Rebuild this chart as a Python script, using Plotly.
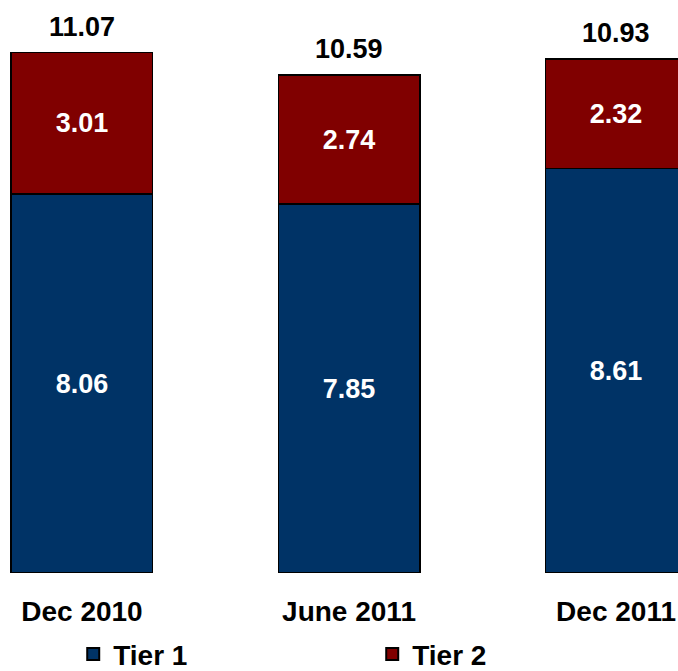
import plotly.graph_objects as go

periods = ["Dec 2010", "June 2011", "Dec 2011"]
tier1 = [8.06, 7.85, 8.61]
tier2 = [3.01, 2.74, 2.32]
totals = [11.07, 10.59, 10.93]

font_name = "Liberation Sans, Arial, sans-serif"

fig = go.Figure()
fig.add_trace(
    go.Bar(
        x=periods, y=tier1, name="<b>Tier 1</b>",
        marker=dict(color="#003366", line=dict(color="black", width=1.5)),
        text=[f"<b>{v:.2f}</b>" for v in tier1],
        textposition="inside", insidetextanchor="middle",
        textfont=dict(color="white", size=27, family=font_name),
    )
)
fig.add_trace(
    go.Bar(
        x=periods, y=tier2, name="<b>Tier 2</b>",
        marker=dict(color="#800000", line=dict(color="black", width=1.5)),
        text=[f"<b>{v:.2f}</b>" for v in tier2],
        textposition="inside", insidetextanchor="middle",
        textfont=dict(color="white", size=27, family=font_name),
    )
)

# totals above each bar
for p, t in zip(periods, totals):
    fig.add_annotation(
        x=p, y=t, text=f"<b>{t:.2f}</b>", showarrow=False,
        yanchor="bottom", yshift=9,
        font=dict(size=27, color="black", family=font_name),
    )

fig.update_layout(
    width=678, height=671,
    barmode="stack",
    bargap=0.47,
    paper_bgcolor="white",
    plot_bgcolor="white",
    margin=dict(l=0, r=0, t=0, b=98, autoexpand=False),
    font=dict(family=font_name, color="black"),
    showlegend=True,
    legend=dict(
        orientation="h", x=0.108, y=-0.142, xanchor="left", yanchor="middle",
        font=dict(size=28, family=font_name), entrywidth=254, entrywidthmode="pixels",
        traceorder="normal", itemsizing="constant",
    ),
    xaxis=dict(
        range=[-0.307, 2.232], showgrid=False, showline=False, zeroline=False,
        tickfont=dict(size=28, family=font_name), ticklabelstandoff=19,
        tickprefix="<b>", ticksuffix="</b>",
    ),
    yaxis=dict(range=[0, 12.19], visible=False),
)

# drop the default page margin so the figure fills the window
fig.write_html(
    "out.html",
    config={"displayModeBar": False},
    post_script="document.body.style.margin='0';",
)
